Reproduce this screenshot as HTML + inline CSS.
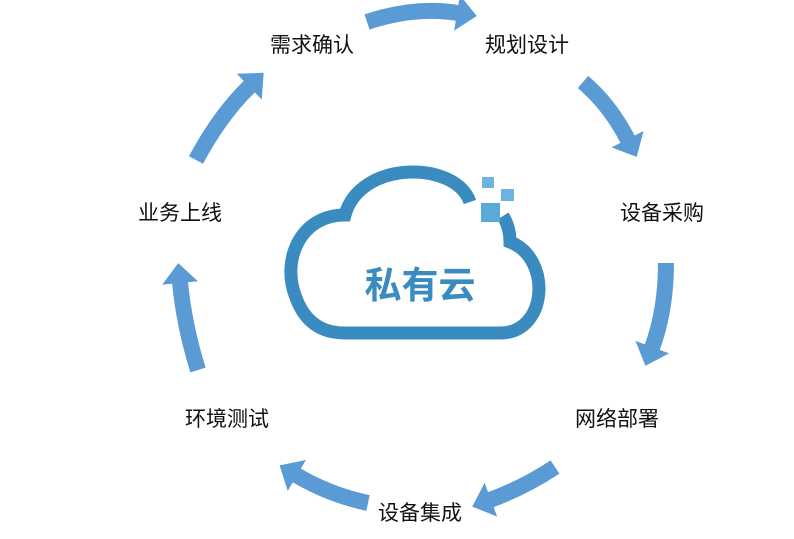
<!DOCTYPE html>
<html><head><meta charset="utf-8"><style>
html,body{margin:0;padding:0;background:#fff;}
svg{display:block}
text{font-family:"Liberation Sans","Noto Sans CJK SC",sans-serif;}
</style></head><body>
<svg width="794" height="539" viewBox="0 0 794 539" xmlns="http://www.w3.org/2000/svg">
<defs>
<marker id="h" markerUnits="userSpaceOnUse" viewBox="0 0 20 36" markerWidth="20" markerHeight="36" refX="1" refY="18" orient="auto">
<path d="M0,0 L20,18 L0,36 z" fill="#5b9bd5"/>
</marker>
</defs>
<g fill="none" stroke="#5b9bd5" stroke-width="16" marker-end="url(#h)">
<path d="M367,22 Q415,6 458,13"/>
<path d="M583,82 Q610,105 628,140"/>
<path d="M666,263 Q666,310 652,348"/>
<path d="M555,467 Q525,487 490,500"/>
<path d="M368,503 Q330,495 296,475"/>
<path d="M198,370 Q184,325 180,282"/>
<path d="M196,160 Q220,115 250,86"/>
</g>
<path d="M470 202 C 455 160, 360 160, 345 215 C 300 215, 282 260, 295 295 C 305 325, 325 333, 345 333 L 500 333 C 548 333, 552 258, 510 242 C 510 232, 508 224, 503 216" fill="none" stroke="#3a8bc0" stroke-width="13"/>
<rect x="482" y="177" width="12" height="11" fill="#6fb3e0"/>
<rect x="501" y="189" width="13" height="12" fill="#6fb3e0"/>
<rect x="481" y="203" width="19" height="19" fill="#5aaad8"/>
<text x="420" y="298" text-anchor="middle" font-size="37" font-weight="bold" fill="#3a8bc0">私有云</text>
<g font-size="21" fill="#111">
<text x="270" y="52">需求确认</text>
<text x="485" y="52">规划设计</text>
<text x="620" y="220">设备采购</text>
<text x="575" y="426">网络部署</text>
<text x="378" y="520">设备集成</text>
<text x="185" y="426">环境测试</text>
<text x="138" y="220">业务上线</text>
</g>
</svg>
</body></html>
